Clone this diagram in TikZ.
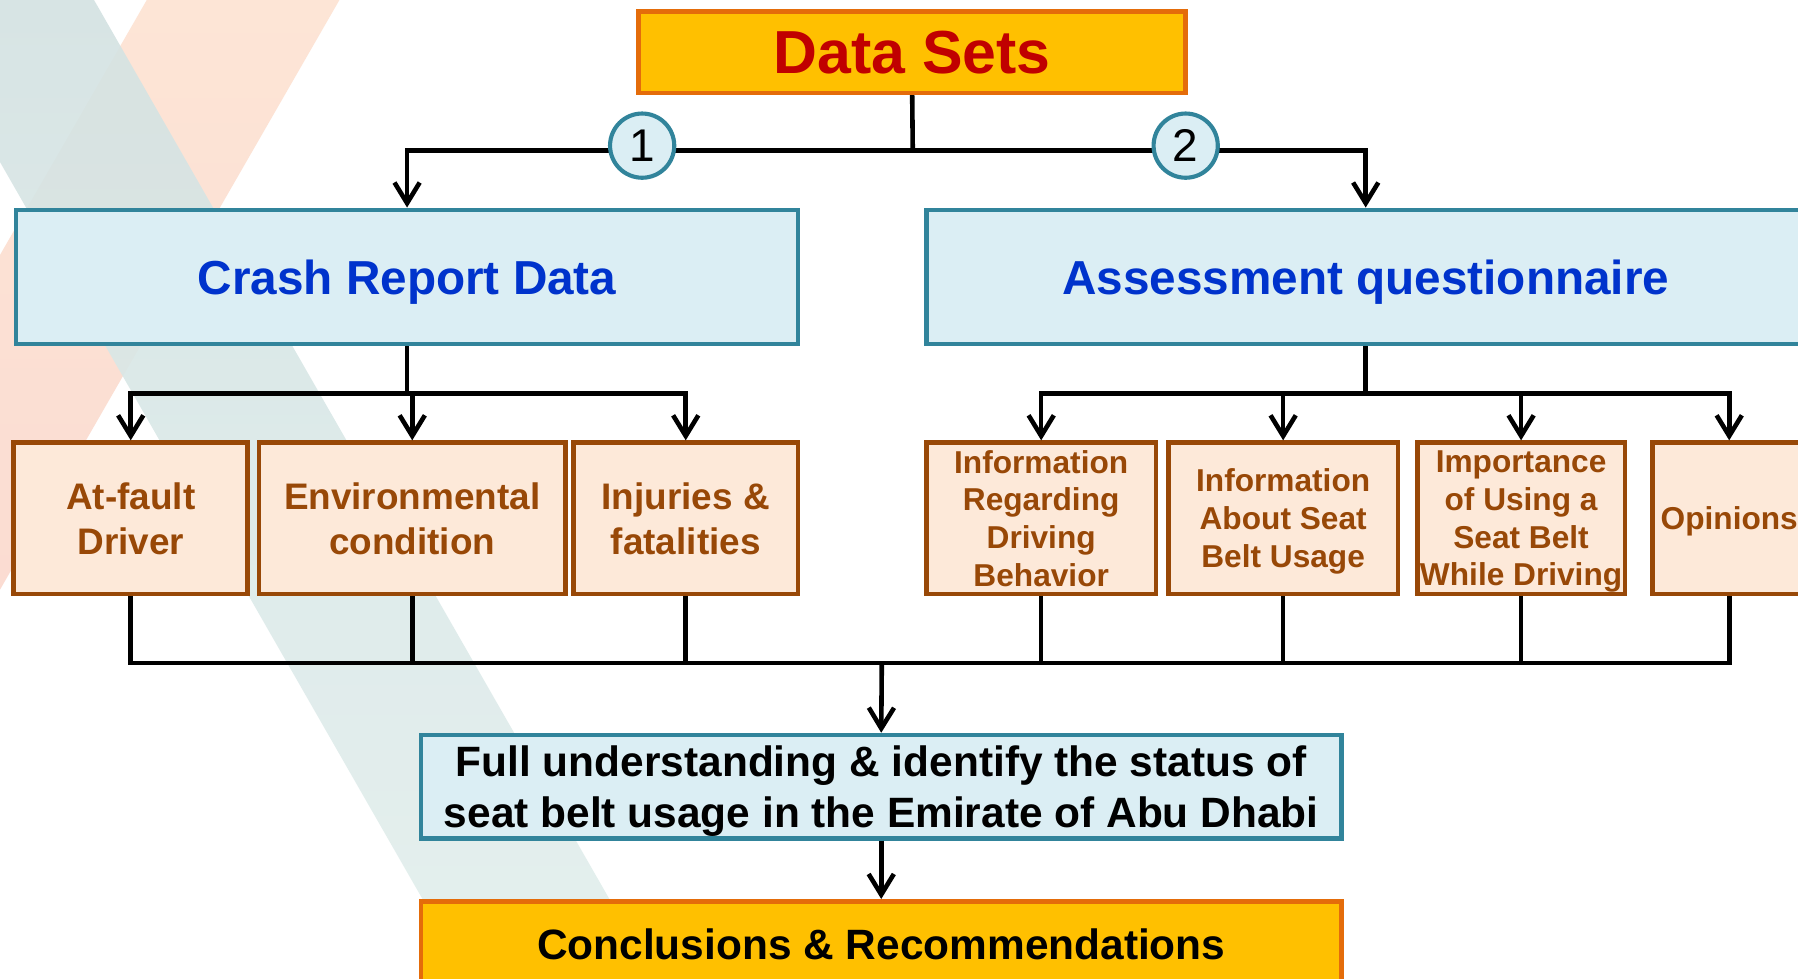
\documentclass[tikz,border=0pt]{standalone}
\usepackage{fontspec}
\setmainfont{Liberation Sans}
\usetikzlibrary{arrows.meta}
\definecolor{gold}{HTML}{FFC000}
\definecolor{goldline}{HTML}{E46C0A}
\definecolor{dsred}{HTML}{C00000}
\definecolor{lblue}{HTML}{DBEEF4}
\definecolor{tealline}{HTML}{31849B}
\definecolor{textblue}{HTML}{0033CC}
\definecolor{peachfill}{HTML}{FDE9D9}
\definecolor{brownline}{HTML}{984807}
\definecolor{bandtealA}{HTML}{D3E2E2}
\definecolor{bandtealB}{HTML}{E2EFED}
\definecolor{bandpeachA}{HTML}{FDE5D6}
\definecolor{bandpeachB}{HTML}{F9D6CF}
\begin{document}
\begin{tikzpicture}[x=0.5pt,y=-0.5pt,
  >={Straight Barb[length=9pt,width=11pt]},
  conn/.style={draw=black, line width=2pt, line join=miter},
  goldbox/.style={draw=goldline, fill=gold, line width=2pt, inner sep=0pt, text depth=0pt},
  bluebox/.style={draw=tealline, fill=lblue, line width=2pt, inner sep=0pt, text depth=0pt},
  subbox/.style={draw=brownline, fill=peachfill, line width=2pt, inner sep=0pt,
    text=brownline, align=center, minimum height=66pt, text depth=0pt},
  bigsub/.style={subbox, font=\fontsize{16.1}{19.5}\selectfont\bfseries},
  smallsub/.style={subbox, font=\fontsize{13.8}{16.5}\selectfont\bfseries},
  numcirc/.style={circle, draw=tealline, fill=lblue, line width=1.8pt,
    minimum size=28pt, inner sep=0pt, font=\fontsize{20}{20}\selectfont}
]
\useasboundingbox (0,0) rectangle (1568,853);
\clip (0,0) rectangle (1568,853);
\fill[white] (0,0) rectangle (1568,853);
% background bands
\shade[top color=bandpeachA, bottom color=bandpeachB]
  (128,0) -- (296,0) -- (-195,853) -- (-363,853) -- cycle;
\shade[top color=bandtealA, bottom color=bandtealB, opacity=0.9]
  (-81,0) -- (82,0) -- (571,853) -- (408,853) -- cycle;

% boxes
\node[goldbox, minimum width=238.5pt, minimum height=35.5pt,
  font=\fontsize{26.5}{30}\selectfont\bfseries, text=dsred] (ds) at (795.5,45.5) {Data Sets};
\node[bluebox, minimum width=341pt, minimum height=58.5pt,
  font=\fontsize{20.8}{24}\selectfont\bfseries, text=textblue] (crash) at (355,241.5) {Crash Report Data};
\node[bluebox, minimum width=383pt, minimum height=58.5pt,
  font=\fontsize{20.8}{24}\selectfont\bfseries, text=textblue] (assess) at (1191,241.5) {Assessment questionnaire};

\node[bigsub, minimum width=102pt] (af) at (114,452) {At-fault\\Driver};
\node[bigsub, minimum width=133.5pt] (env) at (359.5,452) {Environmental\\condition};
\node[bigsub, minimum width=98pt] (inj) at (598,452) {Injuries \&\\fatalities};

\node[smallsub, minimum width=100pt] (ir) at (908,452) {Information\\Regarding\\Driving\\Behavior};
\node[smallsub, minimum width=100pt] (ia) at (1119,452) {Information\\About Seat\\Belt Usage};
\node[smallsub, minimum width=90.5pt] (im) at (1326.5,452) {Importance\\of Using a\\Seat Belt\\While Driving};
\node[smallsub, minimum width=67pt] (op) at (1508,452) {Opinions};

\node[bluebox, minimum width=401.5pt, minimum height=45pt, align=center,
  font=\fontsize{18.5}{22}\selectfont\bfseries, text=black] (full) at (768.5,686)
  {Full understanding \& identify the status of\\seat belt usage in the Emirate of Abu Dhabi};
\node[goldbox, minimum width=401.5pt, minimum height=37pt,
  font=\fontsize{18.5}{22}\selectfont\bfseries, text=black] (concl) at (768.5,823)
  {Conclusions \& Recommendations};

% junction points
\coordinate (j0) at (796,131);
\coordinate (jL) at (355,131);
\coordinate (jR) at (1191,131);
\coordinate (cb) at (355,343);
\coordinate (ab) at (1191,343);
\coordinate (bb) at (769,578);

% top level
\draw[conn] (ds.south) -- (j0);
\draw[conn, <->] (crash.north) -- (jL) -- (jR) -- (assess.north);
\node[numcirc] (c1) at (560,127) {1};
\node[numcirc] (c2) at (1034,127) {2};

% crash report children
\draw[conn] (crash.south) -- (cb);
\draw[conn, <->] (af.north) -- (af.north |- cb) -- (inj.north |- cb) -- (inj.north);
\draw[conn, ->] (env.north |- cb) -- (env.north);

% questionnaire children
\draw[conn] (assess.south) -- (ab);
\draw[conn, <->] (ir.north) -- (ir.north |- ab) -- (op.north |- ab) -- (op.north);
\draw[conn, ->] (ia.north |- ab) -- (ia.north);
\draw[conn, ->] (im.north |- ab) -- (im.north);

% bottom collection
\draw[conn] (af.south) -- (af.south |- bb) -- (op.south |- bb) -- (op.south);
\draw[conn] (env.south) -- (env.south |- bb);
\draw[conn] (inj.south) -- (inj.south |- bb);
\draw[conn] (ir.south) -- (ir.south |- bb);
\draw[conn] (ia.south) -- (ia.south |- bb);
\draw[conn] (im.south) -- (im.south |- bb);
\draw[conn, ->] (bb) -- (full.north);
\draw[conn, ->] (full.south) -- (concl.north);
\end{tikzpicture}
\end{document}
